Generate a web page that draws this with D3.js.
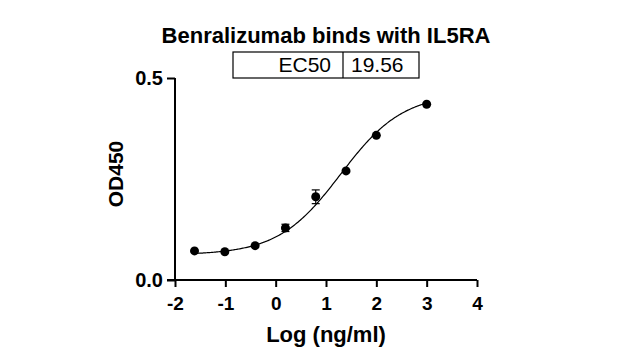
<!DOCTYPE html>
<html><head><meta charset="utf-8">
<script src="https://cdn.jsdelivr.net/npm/d3@7"></script>
<style>body{margin:0;background:#fff}svg{display:block}text{font-family:"Liberation Sans",Arial,sans-serif}</style>
</head><body><svg id="c" width="620" height="360"></svg>
<script>
const title = "Benralizumab binds with IL5RA";
const logConc = [-1.612, -1.010, -0.408, 0.194, 0.796, 1.398, 2.0, 3.0];
const od450   = [0.072, 0.070, 0.085, 0.129, 0.206, 0.270, 0.358, 0.435];
const odErr   = [0.0, 0.0, 0.0, 0.009, 0.017, 0.0, 0.0, 0.0];
const xTicks = [-2, -1, 0, 1, 2, 3, 4];
const yTicks = [0.0, 0.5];
const ec50 = 19.56;
// 4PL fit parameters
const fitBottom = 0.062, fitTop = 0.462, fitHill = 0.70;

const svg = d3.select("#c");
const x = d3.scaleLinear().domain([-2, 4]).range([175, 477]);
const y = d3.scaleLinear().domain([0, 0.5]).range([280, 78]);

// axes
const xAxis = svg.append("g").attr("transform", "translate(0,280)")
  .call(d3.axisBottom(x).tickValues(xTicks).tickFormat(d => String(d)).tickSize(7).tickPadding(10));
const yAxis = svg.append("g").attr("transform", "translate(175,0)")
  .call(d3.axisLeft(y).tickValues(yTicks).tickFormat(d => d.toFixed(1)).tickSize(8).tickPadding(4));
[xAxis, yAxis].forEach(g => {
  g.select(".domain").attr("stroke", "#000").attr("stroke-width", 2);
  g.selectAll(".tick line").attr("stroke", "#000").attr("stroke-width", 2);
  g.selectAll(".tick text").attr("fill", "#000").attr("font-weight", "bold")
    .attr("font-family", "Liberation Sans, Arial, sans-serif");
});
xAxis.selectAll(".tick text").attr("font-size", 19);
yAxis.selectAll(".tick text").attr("font-size", 20);
xAxis.select(".domain").attr("d", `M${x(-2)},0H${x(4)}`);
yAxis.select(".domain").attr("d", `M0,${y(0)}V${y(0.5)}`);
// x axis extends left to meet the 0.0 tick
svg.append("line").attr("x1", 167).attr("x2", 175).attr("y1", 280).attr("y2", 280).attr("stroke", "#000").attr("stroke-width", 2);

// fitted curve
const logEC = Math.log10(ec50);
const curveX = d3.range(logConc[0], logConc[logConc.length - 1] + 0.001, 0.02);
const fit = v => fitBottom + (fitTop - fitBottom) / (1 + Math.pow(10, (logEC - v) * fitHill));
svg.append("path").datum(curveX)
  .attr("d", d3.line().x(d => x(d)).y(d => y(fit(d))))
  .attr("fill", "none").attr("stroke", "#000").attr("stroke-width", 1.2);

// error bars
const pts = logConc.map((v, i) => ({x: v, y: od450[i], e: odErr[i]}));
const eb = svg.append("g").selectAll("g").data(pts.filter(d => d.e > 0)).join("g");
eb.append("line").attr("x1", d => x(d.x)).attr("x2", d => x(d.x))
  .attr("y1", d => y(d.y + d.e)).attr("y2", d => y(d.y - d.e)).attr("stroke", "#000").attr("stroke-width", 1.2);
[1, -1].forEach(s => eb.append("line").attr("x1", d => x(d.x) - 4).attr("x2", d => x(d.x) + 4)
  .attr("y1", d => y(d.y + s * d.e)).attr("y2", d => y(d.y + s * d.e)).attr("stroke", "#000").attr("stroke-width", 1.2));

// points
svg.append("g").selectAll("circle").data(pts).join("circle")
  .attr("cx", d => x(d.x)).attr("cy", d => y(d.y)).attr("r", 4.5).attr("fill", "#000");

// title
svg.append("text").attr("x", 326).attr("y", 43).attr("text-anchor", "middle")
  .attr("font-size", 22).attr("font-weight", "bold").text(title);

// EC50 box
const bx = 233, bw1 = 110, bw2 = 76, by = 52, bh = 26;
svg.append("rect").attr("x", bx).attr("y", by).attr("width", bw1 + bw2).attr("height", bh)
  .attr("fill", "none").attr("stroke", "#000").attr("stroke-width", 1.2);
svg.append("line").attr("x1", bx + bw1).attr("x2", bx + bw1).attr("y1", by).attr("y2", by + bh)
  .attr("stroke", "#000").attr("stroke-width", 1.2);
svg.append("text").attr("x", bx + bw1 - 12).attr("y", by + 20).attr("text-anchor", "end")
  .attr("font-size", 21).text("EC50");
svg.append("text").attr("x", bx + bw1 + 8).attr("y", by + 20)
  .attr("font-size", 21).text(ec50.toFixed(2));

// axis titles
svg.append("text").attr("x", 326).attr("y", 342).attr("text-anchor", "middle")
  .attr("font-size", 22).attr("font-weight", "bold").text("Log (ng/ml)");
svg.append("text").attr("transform", "translate(123,174) rotate(-90)").attr("text-anchor", "middle")
  .attr("font-size", 21).attr("font-weight", "bold").text("OD450");
</script></body></html>
